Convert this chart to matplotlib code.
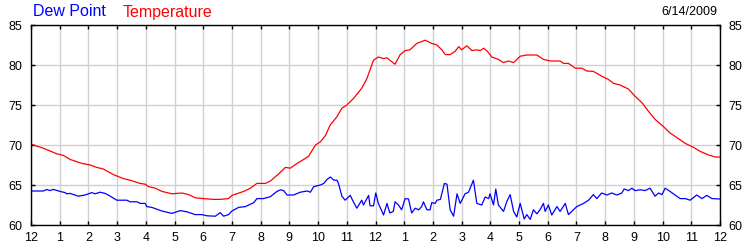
import matplotlib.pyplot as plt

# Temperature (red), hours since midnight
temp_hours = [0, 0.43, 0.9, 1.13, 1.36, 1.77, 2.06, 2.29, 2.52, 2.87, 3.22, 3.45, 3.8, 3.98,
              4.09, 4.33, 4.56, 4.91, 5.26, 5.49, 5.72, 6.01, 6.36, 6.59, 6.88, 7.0, 7.41,
              7.64, 7.87, 8.16, 8.34, 8.63, 8.86, 9.03, 9.27, 9.5, 9.67, 9.91, 10.08, 10.26,
              10.42, 10.65, 10.83, 11.0, 11.23, 11.52, 11.7, 11.93, 12.1, 12.28, 12.4, 12.5,
              12.68, 12.86, 13.03, 13.2, 13.44, 13.73, 13.96, 14.14, 14.31, 14.43, 14.6, 14.77,
              14.9, 15.0, 15.18, 15.36, 15.53, 15.65, 15.77, 15.9, 16.05, 16.28, 16.46, 16.63,
              16.81, 17.04, 17.27, 17.62, 17.85, 18.09, 18.43, 18.55, 18.72, 18.96, 19.19,
              19.36, 19.59, 19.88, 20.11, 20.29, 20.52, 20.81, 21.04, 21.28, 21.51, 21.74,
              22.03, 22.26, 22.55, 22.79, 23.08, 23.31, 23.6, 23.84, 24.0]
temp_vals = [70.1, 69.6, 68.9, 68.7, 68.2, 67.7, 67.5, 67.2, 67.0, 66.3, 65.8, 65.6, 65.2, 65.1,
             64.8, 64.6, 64.2, 63.9, 64.0, 63.8, 63.4, 63.3, 63.2, 63.2, 63.3, 63.7, 64.2,
             64.6, 65.2, 65.2, 65.5, 66.4, 67.2, 67.1, 67.7, 68.2, 68.6, 70.0, 70.4, 71.2,
             72.5, 73.5, 74.6, 75.0, 75.8, 77.1, 78.3, 80.6, 81.0, 80.8, 80.9, 80.6,
             80.1, 81.3, 81.8, 81.9, 82.7, 83.1, 82.7, 82.5, 81.9, 81.3, 81.3, 81.7,
             82.3, 81.9, 82.4, 81.8, 81.9, 81.8, 82.1, 81.7, 81.0, 80.7, 80.3, 80.5,
             80.3, 81.1, 81.25, 81.25, 80.7, 80.5, 80.5, 80.2, 80.2, 79.6, 79.6,
             79.25, 79.2, 78.6, 78.2, 77.7, 77.5, 77.0, 76.1, 75.3, 74.2, 73.2,
             72.3, 71.5, 70.8, 70.2, 69.7, 69.2, 68.75, 68.5, 68.5]

# Dew point (blue)
dew_hours = [0, 0.43, 0.55, 0.66, 0.78, 1.01, 1.19, 1.24, 1.36, 1.65, 1.88, 2.12, 2.23, 2.41,
             2.58, 2.76, 2.99, 3.34, 3.45, 3.69, 3.8, 3.98, 4.03, 4.21, 4.56, 4.91, 5.2, 5.43,
             5.72, 5.95, 6.13, 6.42, 6.59, 6.71, 6.88, 7.0, 7.23, 7.47, 7.76, 7.87, 8.1, 8.34,
             8.57, 8.69, 8.8, 8.92, 9.15, 9.38, 9.62, 9.73, 9.85, 10.08, 10.2, 10.31, 10.43,
             10.55, 10.66, 10.71, 10.83, 10.94, 11.12, 11.23, 11.35, 11.52, 11.58, 11.76, 11.81,
             11.93, 12.01, 12.1, 12.28, 12.4, 12.5, 12.62, 12.68, 12.8, 12.91, 13.03, 13.15,
             13.26, 13.38, 13.5, 13.61, 13.67, 13.79, 13.9, 13.96, 14.08, 14.14, 14.26, 14.4,
             14.49, 14.6, 14.72, 14.84, 14.95, 15.12, 15.24, 15.41, 15.53, 15.7, 15.82, 15.94,
             15.99, 16.11, 16.19, 16.28, 16.46, 16.57, 16.69, 16.81, 16.92, 17.04, 17.18, 17.27,
             17.39, 17.5, 17.62, 17.73, 17.85, 17.91, 18.02, 18.14, 18.32, 18.43, 18.61, 18.72,
             19.01, 19.25, 19.42, 19.59, 19.71, 19.88, 20.06, 20.23, 20.4, 20.58, 20.66, 20.81,
             20.93, 21.04, 21.22, 21.39, 21.56, 21.74, 21.86, 21.98, 22.09, 22.26, 22.49, 22.61,
             22.79, 22.96, 23.19, 23.37, 23.54, 23.72, 24.0]
dew_vals = [64.25, 64.25, 64.45, 64.3, 64.45, 64.2, 64.05, 63.9, 63.95, 63.6, 63.75, 64.05, 63.9, 64.1,
            63.95, 63.6, 63.1, 63.1, 62.9, 62.9, 62.7, 62.7, 62.3, 62.2, 61.75, 61.45, 61.8, 61.65,
            61.3, 61.3, 61.15, 61.1, 61.55, 61.1, 61.3, 61.75, 62.2, 62.3, 62.8, 63.3, 63.3, 63.55,
            64.2, 64.4, 64.3, 63.75, 63.75, 64.1, 64.25, 64.1, 64.8, 65.0, 65.2, 65.7, 66.0,
            65.6, 65.6, 65.2, 63.6, 63.1, 63.7, 62.9, 62.1, 63.1, 62.5, 63.7, 62.4,
            62.4, 64.0, 62.7, 61.25, 62.7, 61.5, 61.7, 62.9, 62.5, 61.9, 63.3, 63.25,
            61.5, 62.1, 61.9, 62.3, 62.9, 61.9, 61.9, 62.8, 62.7, 63.1, 63.2, 65.2,
            65.1, 61.9, 61.1, 63.9, 62.7, 63.9, 64.1, 65.6, 62.7, 62.5, 63.5, 63.3,
            63.9, 62.5, 64.5, 62.5, 61.7, 62.9, 63.8, 61.7, 61.0, 62.7, 60.75, 61.3,
            60.7, 61.9, 61.4, 61.9, 62.7, 61.7, 62.5, 61.25, 62.3, 61.7, 62.7, 61.3,
            62.3, 62.7, 63.1, 63.8, 63.3, 64.0, 63.75, 64.0, 63.75, 64.0, 64.5, 64.3,
            64.6, 64.3, 64.4, 64.3, 64.6, 63.6, 64.0, 63.8, 64.6, 64.2, 63.6, 63.3,
            63.3, 63.1, 63.75, 63.3, 63.7, 63.3, 63.25]

hour_labels = ["12"] + [str(h) for h in range(1, 12)] + ["12"] + [str(h) for h in range(1, 12)] + ["12"]
y_ticks = [60, 65, 70, 75, 80, 85]

plt.rcParams["font.family"] = ["Liberation Sans", "DejaVu Sans"]

fig = plt.figure(figsize=(7.5, 2.5), dpi=100)
ax = fig.add_axes([31 / 750, 25 / 250, 689 / 750, 200 / 250])

ax.plot(dew_hours, dew_vals, color="#0000ff", lw=0.9)
ax.plot(temp_hours, temp_vals, color="#ff0000", lw=0.9)

ax.set_xlim(0, 24)
ax.set_ylim(60, 85)
ax.set_xticks(range(25))
ax.set_xticklabels(hour_labels)
ax.set_yticks(y_ticks)
ax.grid(True, color="#d0d0d0", lw=1)
ax.set_axisbelow(True)
for s in ax.spines.values():
    s.set_linewidth(1.0)

ax.tick_params(axis="both", direction="in", length=3, width=1, labelsize=9,
               top=True, right=True, labelright=True)
ax.tick_params(axis="x", pad=5)
ax.tick_params(axis="y", pad=6)

fig.text(33 / 750, 1 - 12 / 250, "Dew Point", color="#0000ff", fontsize=11.5,
         ha="left", va="center")
fig.text(123 / 750, 1 - 12 / 250, "Temperature", color="#ff0000", fontsize=11.5,
         ha="left", va="center")
fig.text(717 / 750, 1 - 12 / 250, "6/14/2009", color="black", fontsize=9,
         ha="right", va="center")

fig.savefig("out.png", dpi=100)
